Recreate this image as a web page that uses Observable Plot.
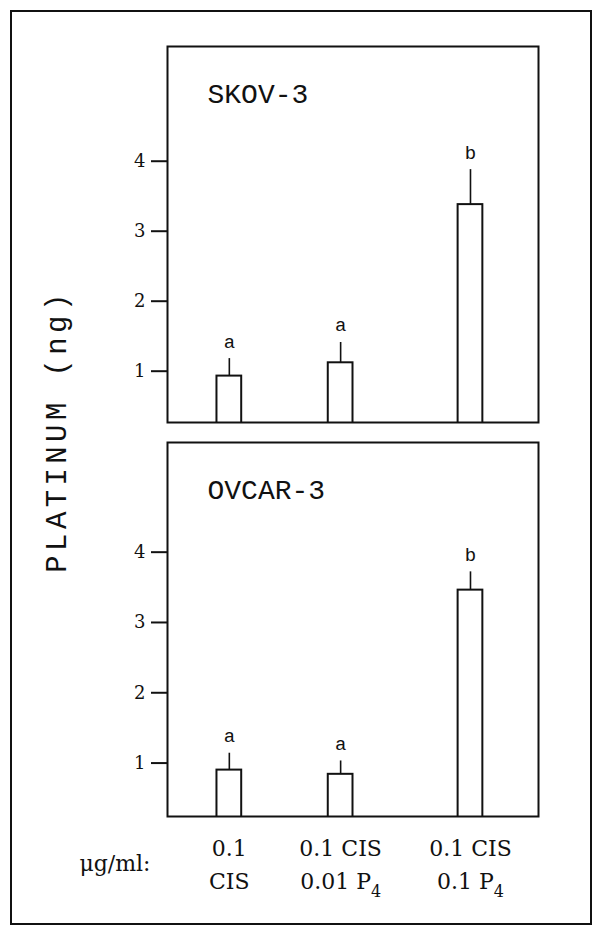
<!DOCTYPE html>
<html><head><meta charset="utf-8">
<script src="https://cdn.jsdelivr.net/npm/d3@7"></script>
<script src="https://cdn.jsdelivr.net/npm/@observablehq/plot@0.6"></script>
<style>
body{margin:0;background:#fff;}
#page{position:relative;width:602px;height:936px;overflow:hidden;}
#top{position:absolute;left:0;top:0;}
#bottom{position:absolute;left:0;top:432px;}
#border{position:absolute;left:10px;top:10px;width:582px;height:915px;box-sizing:border-box;border:2px solid #111;}
#ylab{position:absolute;left:58px;top:431px;transform:translate(-50%,-50%) rotate(-90deg);font-family:"Liberation Mono";font-size:29px;letter-spacing:4.4px;white-space:nowrap;color:#111;}
</style></head><body>
<div id="page"><div id="top"></div><div id="bottom"></div><div id="border"></div><div id="ylab"></div></div>
<script>
// categories (treatments, µg/ml) and their slot along the x axis of the original figure
const treatments = ["0.1 CIS", "0.1 CIS + 0.01 P4", "0.1 CIS + 0.1 P4"];
const slot = [1, 2.8, 4.9];
const labelLine1 = ["0.1", "0.1 CIS", "0.1 CIS"];
const labelLine2 = ["CIS", "0.01 P\u2084", "0.1 P\u2084"];
const unitLabel = "\u03bcg/ml:";
const yLabel = "PLATINUM (ng)";
const yTicks = [1, 2, 3, 4];

// SKOV-3 panel
const skovName = "SKOV-3";
const skovMean = [0.93, 1.12, 3.38];
const skovSE = [0.25, 0.29, 0.50];
const skovLetter = ["a", "a", "b"];

// OVCAR-3 panel
const ovcarName = "OVCAR-3";
const ovcarMean = [0.90, 0.84, 3.46];
const ovcarSE = [0.24, 0.19, 0.26];
const ovcarLetter = ["a", "a", "b"];

document.getElementById("ylab").textContent = yLabel;

const ink = "#111";
function panel({name, mean, se, letter, domain, height, marginTop, marginBottom, withX}) {
  const data = treatments.map((t, i) => ({t, x: slot[i], mean: mean[i], hi: mean[i] + se[i], letter: letter[i]}));
  const marks = [
    Plot.rect(data, {x1: d => d.x - 0.2, x2: d => d.x + 0.2, y1: 0, y2: "mean", fill: "white", stroke: ink, strokeWidth: 2, clip: true}),
    Plot.ruleX(data, {x: "x", y1: "mean", y2: "hi", stroke: ink, strokeWidth: 1.6}),
    Plot.text(data, {x: "x", y: "hi", text: "letter", dy: -11, lineAnchor: "bottom", fontSize: 19, fontFamily: "Liberation Mono", fill: ink}),
    Plot.frame({stroke: ink, strokeWidth: 2}),
    Plot.text([name], {frameAnchor: "top-left", dx: 40, dy: 56, lineAnchor: "bottom", textAnchor: "start", fontSize: 28, fontFamily: "Liberation Mono", fill: ink}),
    Plot.axisY(yTicks, {tickSize: 16, tickPadding: 6, tickFormat: "d", fontSize: 18, fontFamily: "DejaVu Serif", strokeWidth: 2, stroke: ink, fill: ink, label: null})
  ];
  if (withX) {
    marks.push(Plot.axisX(slot, {tickSize: 0, tickPadding: 16, lineHeight: 1.5, fontSize: 22, fontFamily: "DejaVu Serif", fill: ink, label: null,
      tickFormat: d => { const i = slot.indexOf(d); return labelLine1[i] + "\n" + labelLine2[i]; }}));
    marks.push(Plot.text([unitLabel], {frameAnchor: "bottom-left", dx: -17, dy: 54, lineAnchor: "bottom", textAnchor: "end", fontSize: 22, fontFamily: "DejaVu Serif", fill: ink}));
  }
  const svg = Plot.plot({
    width: 602, height, marginLeft: 167, marginRight: 64, marginTop, marginBottom,
    style: {background: "transparent", color: ink, overflow: "visible"},
    x: {domain: [0, 6], axis: withX ? undefined : null},
    y: {domain},
    marks
  });
  // render the subscript 4 of P4 as a lowered digit, like the original typesetting
  svg.querySelectorAll("tspan, text").forEach(el => {
    if (el.childElementCount === 0 && el.textContent.includes("\u2084")) {
      el.textContent = el.textContent.replace("\u2084", "");
      const sub = document.createElementNS("http://www.w3.org/2000/svg", "tspan");
      sub.setAttribute("dy", "8");
      sub.setAttribute("font-size", "16");
      sub.textContent = "4";
      el.appendChild(sub);
    }
  });
  return svg;
}

document.getElementById("top").append(panel({name: skovName, mean: skovMean, se: skovSE, letter: skovLetter,
  domain: [0.267, 5.639], height: 432, marginTop: 46, marginBottom: 10, withX: false}));
document.getElementById("bottom").append(panel({name: ovcarName, mean: ovcarMean, se: ovcarSE, letter: ovcarLetter,
  domain: [0.24, 5.56], height: 480, marginTop: 10, marginBottom: 96, withX: true}));
</script>
</body></html>
